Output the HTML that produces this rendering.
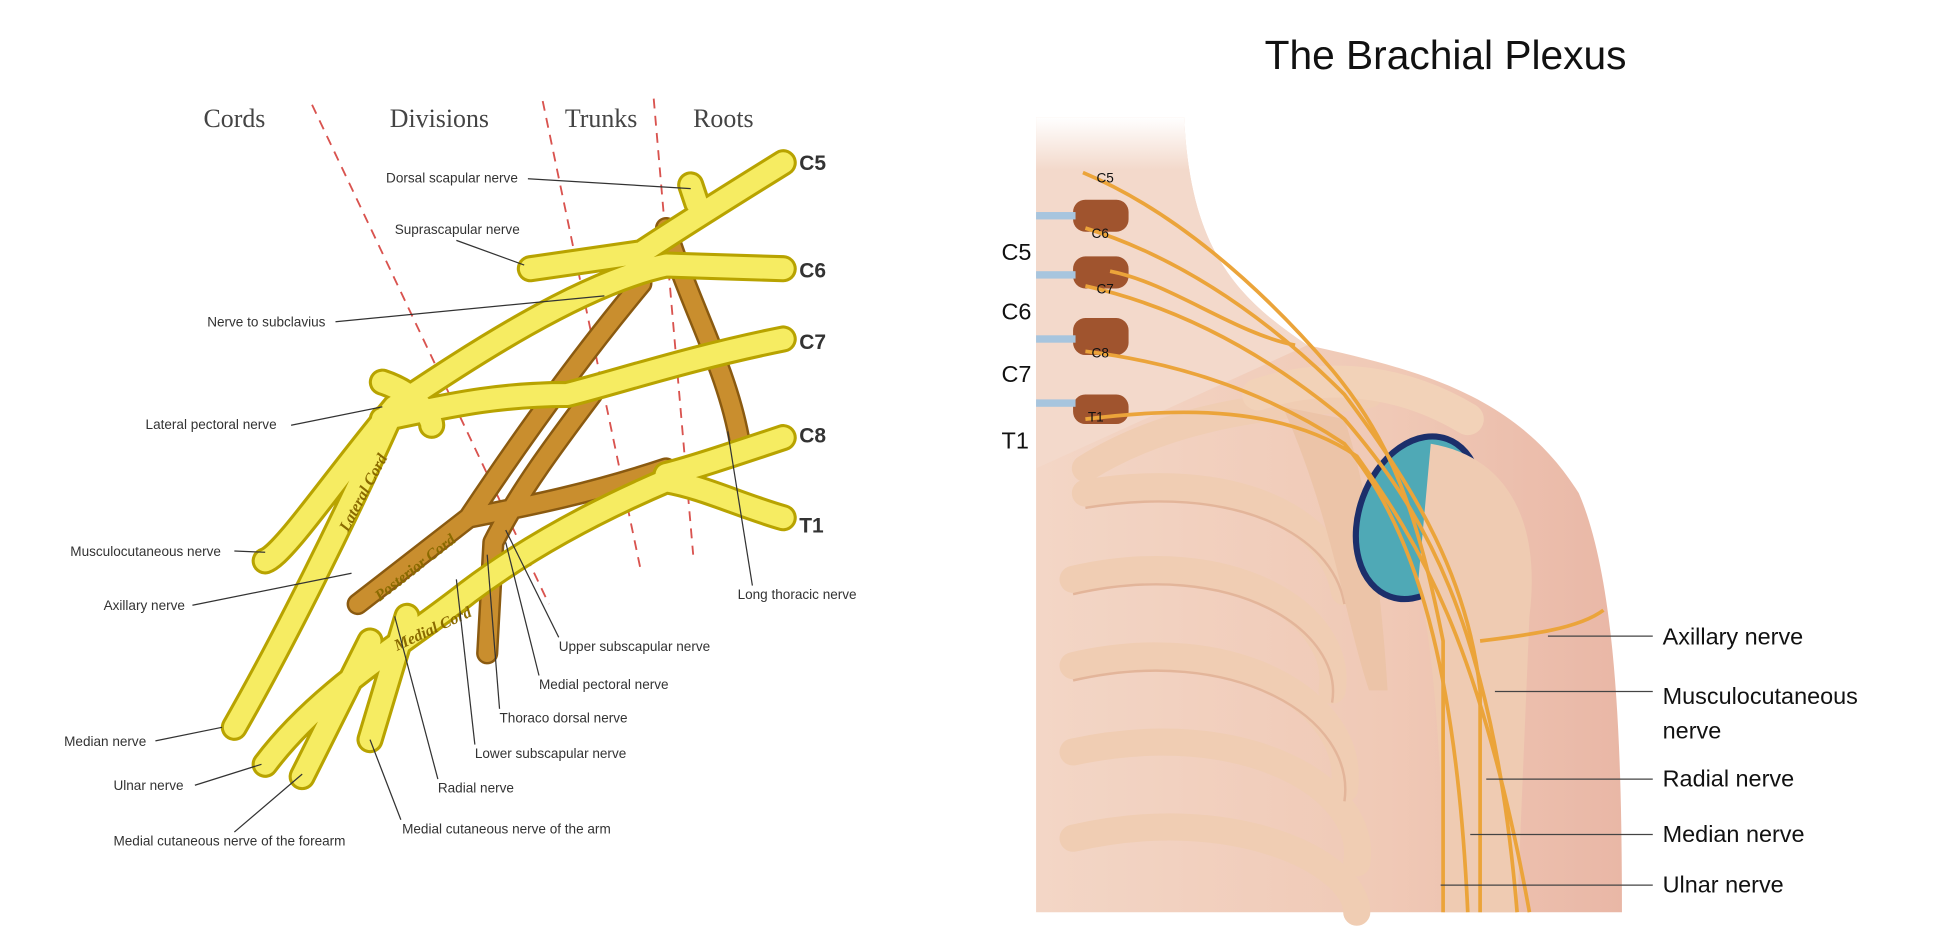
<!DOCTYPE html>
<html><head><meta charset="utf-8"><style>
html,body{margin:0;padding:0;background:#fff;width:1934px;height:927px;overflow:hidden}
svg{display:block}
.s{font-family:"Liberation Sans",sans-serif;font-size:11px;fill:#333}
.h{font-family:"Liberation Serif",serif;font-size:21px;fill:#444}
.r{font-family:"Liberation Sans",sans-serif;font-size:17px;font-weight:bold;fill:#333}
.b{font-family:"Liberation Sans",sans-serif;font-size:19px;fill:#111}
</style></head><body>
<svg width="1934" height="927" viewBox="0 0 1568 752" preserveAspectRatio="none">
<defs>
<linearGradient id="sk" x1="0" y1="0" x2="1" y2="0"><stop offset="0" stop-color="#f3d6c6"/><stop offset="0.6" stop-color="#f0c9b6"/><stop offset="1" stop-color="#e9b7a6"/></linearGradient>
<linearGradient id="nk" x1="0" y1="0" x2="0" y2="1"><stop offset="0" stop-color="#fff"/><stop offset="0.15" stop-color="#f3d9cb"/></linearGradient>
</defs>
<!-- LEFT -->
<text class="h" x="165" y="103">Cords</text>
<text class="h" x="316" y="103">Divisions</text>
<text class="h" x="458" y="103">Trunks</text>
<text class="h" x="562" y="103">Roots</text>
<g stroke="#d9534f" stroke-width="1.5" stroke-dasharray="8,6" fill="none">
<line x1="253" y1="85" x2="445" y2="490"/><line x1="440" y1="82" x2="520" y2="465"/><line x1="530" y1="80" x2="562" y2="450"/></g>
<g fill="none" stroke-linecap="round">
<path d="M540,185 C560,250 590,300 600,360 M520,230 C470,290 420,360 380,420 L290,490 M480,320 C450,360 420,400 400,440 M540,380 C480,400 430,410 380,420 M400,440 L395,530" stroke="#8a5a10" stroke-width="18"/>
<path d="M540,185 C560,250 590,300 600,360 M520,230 C470,290 420,360 380,420 L290,490 M480,320 C450,360 420,400 400,440 M540,380 C480,400 430,410 380,420 M400,440 L395,530" stroke="#c98e2e" stroke-width="14"/>
</g>
<g fill="none" stroke-linecap="round" stroke-linejoin="round">
<path d="M635,132 C590,160 550,185 520,205 L430,218 M635,218 L540,215 C470,230 380,290 320,330 C270,390 230,450 215,455 M320,330 C280,420 230,520 190,590 M635,275 C560,290 500,310 460,320 C400,320 360,330 310,340 M635,355 C590,370 560,380 540,385 M635,420 C600,410 570,395 540,390 C470,420 420,450 380,480 C330,520 260,560 215,620 M300,520 L245,630 M330,500 L300,600 M310,310 C340,320 350,340 350,345 M560,150 L565,165" stroke="#b8a300" stroke-width="22"/>
<path d="M635,132 C590,160 550,185 520,205 L430,218 M635,218 L540,215 C470,230 380,290 320,330 C270,390 230,450 215,455 M320,330 C280,420 230,520 190,590 M635,275 C560,290 500,310 460,320 C400,320 360,330 310,340 M635,355 C590,370 560,380 540,385 M635,420 C600,410 570,395 540,390 C470,420 420,450 380,480 C330,520 260,560 215,620 M300,520 L245,630 M330,500 L300,600 M310,310 C340,320 350,340 350,345 M560,150 L565,165" stroke="#f6ec62" stroke-width="17"/>
</g>
<g font-family="Liberation Serif,serif" font-style="italic" font-weight="bold" font-size="13" fill="#8a6a00">
<text transform="translate(282,432) rotate(-62)">Lateral Cord</text>
<text transform="translate(308,488) rotate(-38)">Posterior Cord</text>
<text transform="translate(322,528) rotate(-25)">Medial Cord</text></g>
<text class="r" x="648" y="138">C5</text><text class="r" x="648" y="225">C6</text><text class="r" x="648" y="283">C7</text><text class="r" x="648" y="359">C8</text><text class="r" x="648" y="432">T1</text>
<g stroke="#333" stroke-width="1">
<line x1="428" y1="145" x2="560" y2="153"/><line x1="370" y1="195" x2="425" y2="215"/><line x1="272" y1="261" x2="490" y2="240"/><line x1="236" y1="345" x2="310" y2="330"/><line x1="190" y1="447" x2="215" y2="448"/><line x1="156" y1="491" x2="285" y2="465"/><line x1="126" y1="601" x2="180" y2="590"/><line x1="158" y1="637" x2="212" y2="620"/><line x1="190" y1="675" x2="245" y2="628"/><line x1="325" y1="665" x2="300" y2="600"/><line x1="355" y1="632" x2="320" y2="500"/><line x1="385" y1="604" x2="370" y2="470"/><line x1="405" y1="575" x2="395" y2="450"/><line x1="437" y1="548" x2="410" y2="440"/><line x1="453" y1="517" x2="410" y2="430"/><line x1="610" y1="475" x2="590" y2="350"/></g>
<text class="s" x="313" y="148">Dorsal scapular nerve</text>
<text class="s" x="320" y="190">Suprascapular nerve</text>
<text class="s" x="168" y="265">Nerve to subclavius</text>
<text class="s" x="118" y="348">Lateral pectoral nerve</text>
<text class="s" x="57" y="451">Musculocutaneous nerve</text>
<text class="s" x="84" y="495">Axillary nerve</text>
<text class="s" x="52" y="605">Median nerve</text>
<text class="s" x="92" y="641">Ulnar nerve</text>
<text class="s" x="92" y="686">Medial cutaneous nerve of the forearm</text>
<text class="s" x="326" y="676">Medial cutaneous nerve of the arm</text>
<text class="s" x="355" y="643">Radial nerve</text>
<text class="s" x="385" y="615">Lower subscapular nerve</text>
<text class="s" x="405" y="586">Thoraco dorsal nerve</text>
<text class="s" x="437" y="559">Medial pectoral nerve</text>
<text class="s" x="453" y="528">Upper subscapular nerve</text>
<text class="s" x="598" y="486">Long thoracic nerve</text>
<!-- RIGHT -->
<text x="1172" y="56" text-anchor="middle" font-family="Liberation Sans,sans-serif" font-size="33" fill="#111">The Brachial Plexus</text>
<path d="M840,95 L960,95 C965,200 1000,240 1060,280 C1150,300 1230,320 1280,400 C1310,470 1315,600 1315,740 L840,740 Z" fill="url(#sk)"/>
<path d="M840,95 L960,95 C965,200 1000,240 1060,280 L840,380 Z" fill="url(#nk)"/>
<g fill="none" stroke="#f0cdb3" stroke-width="22" stroke-linecap="round">
<path d="M880,400 C1000,380 1080,420 1090,480"/><path d="M870,470 C1000,440 1090,500 1080,560"/><path d="M870,540 C1000,510 1100,570 1090,640"/><path d="M870,610 C1010,580 1110,640 1100,700"/><path d="M870,680 C1000,650 1100,700 1100,740"/>
<path d="M880,380 C960,330 1050,330 1110,320"/></g>
<g fill="none" stroke="#e3b59a" stroke-width="2"><path d="M880,412 C1000,392 1080,432 1090,490"/><path d="M870,482 C1000,452 1090,512 1080,570"/><path d="M870,552 C1000,522 1100,582 1090,650"/></g>
<path d="M1040,330 C1080,420 1090,500 1110,560 L1125,560 C1120,480 1110,400 1090,340 Z" fill="#ecc4a8"/>
<ellipse cx="1150" cy="420" rx="48" ry="68" fill="#4fa9b6" stroke="#1c2f6b" stroke-width="5" transform="rotate(20 1150 420)"/>
<path d="M1160,360 C1220,370 1250,420 1240,500 L1230,740 L1170,740 C1170,600 1160,520 1150,470 Z" fill="#efcbb2"/>
<path d="M1020,320 C1080,300 1140,310 1190,340" stroke="#f2d2b8" stroke-width="26" fill="none" stroke-linecap="round"/>
<g fill="#a0542e"><rect x="870" y="162" width="45" height="26" rx="10"/><rect x="870" y="208" width="45" height="26" rx="10"/><rect x="870" y="258" width="45" height="30" rx="10"/><rect x="870" y="320" width="45" height="24" rx="10"/></g>
<g fill="#a7c5de"><rect x="840" y="172" width="32" height="6"/><rect x="840" y="220" width="32" height="6"/><rect x="840" y="272" width="32" height="6"/><rect x="840" y="324" width="32" height="6"/></g>
<g fill="none" stroke="#eba43a" stroke-width="3">
<path d="M878,140 C950,170 1020,230 1080,300 C1130,360 1150,420 1170,520 L1170,740"/>
<path d="M880,185 C960,210 1030,260 1090,320 C1150,400 1190,470 1200,560 L1200,740"/>
<path d="M880,232 C960,250 1030,290 1090,340 C1150,410 1210,500 1230,740"/>
<path d="M880,285 C960,295 1030,320 1090,360 C1140,420 1180,520 1190,740"/>
<path d="M880,340 C960,330 1040,330 1100,370 C1150,440 1200,520 1240,740"/>
<path d="M900,220 C950,230 1000,270 1050,280"/><path d="M1200,520 C1240,515 1280,510 1300,495"/></g>
<g font-family="Liberation Sans,sans-serif" font-size="11" fill="#111"><text x="889" y="148">C5</text><text x="885" y="193">C6</text><text x="889" y="238">C7</text><text x="885" y="290">C8</text><text x="882" y="342">T1</text></g>
<text class="b" x="812" y="211">C5</text><text class="b" x="812" y="259">C6</text><text class="b" x="812" y="310">C7</text><text class="b" x="812" y="364">T1</text>
<g stroke="#444" stroke-width="1"><line x1="1255" y1="516" x2="1340" y2="516"/><line x1="1212" y1="561" x2="1340" y2="561"/><line x1="1205" y1="632" x2="1340" y2="632"/><line x1="1192" y1="677" x2="1340" y2="677"/><line x1="1168" y1="718" x2="1340" y2="718"/></g>
<text class="b" x="1348" y="523">Axillary nerve</text>
<text class="b" x="1348" y="571">Musculocutaneous</text><text class="b" x="1348" y="599">nerve</text>
<text class="b" x="1348" y="638">Radial nerve</text>
<text class="b" x="1348" y="683">Median nerve</text>
<text class="b" x="1348" y="724">Ulnar nerve</text>
</svg>
</body></html>
